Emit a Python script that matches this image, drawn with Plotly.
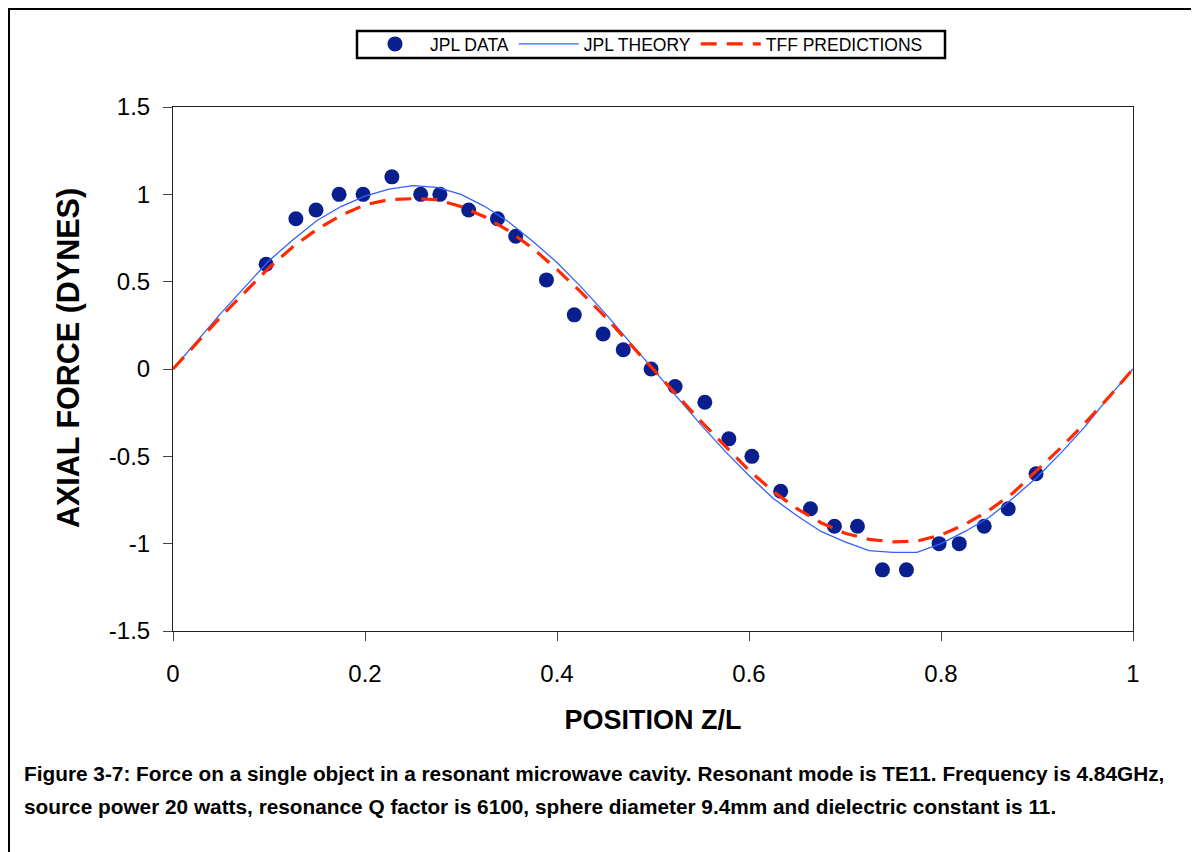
import plotly.graph_objects as go

# ---- data ----
data_x = [0.097, 0.128, 0.149, 0.173, 0.198, 0.228, 0.258, 0.278, 0.308, 0.338,
          0.357, 0.389, 0.418, 0.448, 0.469, 0.498, 0.523, 0.554, 0.579, 0.603,
          0.633, 0.664, 0.689, 0.713, 0.739, 0.764, 0.798, 0.819, 0.845, 0.870, 0.899]
data_y = [0.60, 0.86, 0.91, 1.00, 1.00, 1.10, 1.00, 1.00, 0.91, 0.86,
          0.76, 0.51, 0.31, 0.20, 0.11, 0.00, -0.10, -0.19, -0.40, -0.50,
          -0.70, -0.80, -0.90, -0.90, -1.15, -1.15, -1.00, -1.00, -0.90, -0.80, -0.60]

pos_x = [0, 0.025, 0.05, 0.075, 0.1, 0.125, 0.15, 0.175, 0.2, 0.225, 0.25, 0.275, 0.3,
         0.325, 0.35, 0.375, 0.4, 0.425, 0.45, 0.475, 0.5, 0.525, 0.55, 0.575, 0.6,
         0.625, 0.65, 0.675, 0.7, 0.725, 0.75, 0.775, 0.8, 0.825, 0.85, 0.875, 0.9,
         0.925, 0.95, 0.975, 1.0]
theory_y = [0, 0.16, 0.32, 0.47, 0.62, 0.74, 0.85, 0.93, 0.99, 1.03, 1.05, 1.04, 1.00,
            0.93, 0.84, 0.73, 0.61, 0.47, 0.32, 0.16, 0, -0.16, -0.32, -0.47, -0.61,
            -0.74, -0.84, -0.93, -0.99, -1.04, -1.05, -1.05, -1.00, -0.93, -0.85, -0.74, -0.62,
            -0.48, -0.33, -0.16, 0]
tff_y = [0, 0.15, 0.30, 0.44, 0.58, 0.70, 0.80, 0.88, 0.94, 0.97, 0.975, 0.97, 0.93,
         0.87, 0.79, 0.69, 0.57, 0.44, 0.30, 0.15, 0, -0.15, -0.30, -0.44, -0.58,
         -0.70, -0.80, -0.88, -0.94, -0.975, -0.99, -0.985, -0.95, -0.89, -0.81, -0.71, -0.58,
         -0.45, -0.31, -0.16, 0]

x_ticks = [0, 0.2, 0.4, 0.6, 0.8, 1]
x_tick_labels = ["0", "0.2", "0.4", "0.6", "0.8", "1"]
y_ticks = [-1.5, -1, -0.5, 0, 0.5, 1, 1.5]
y_tick_labels = ["-1.5", "-1", "-0.5", "0", "0.5", "1", "1.5"]

x_title = "POSITION Z/L"
y_title = "AXIAL FORCE (DYNES)"
caption_lines = [
    "Figure 3-7: Force on a single object in a resonant microwave cavity. Resonant mode is TE11. Frequency is 4.84GHz,",
    "source power 20 watts, resonance Q factor is 6100, sphere diameter 9.4mm and dielectric constant is 11.",
]

fig = go.Figure()
fig.add_trace(go.Scatter(x=data_x, y=data_y, mode="markers", name="JPL DATA",
                         marker=dict(symbol="circle", size=15, color="#0a1f8f",
                                     line=dict(width=0))))
fig.add_trace(go.Scatter(x=pos_x, y=theory_y, mode="lines", name="JPL THEORY",
                         line=dict(color="#3560ff", width=1.3)))
fig.add_trace(go.Scatter(x=pos_x, y=tff_y, mode="lines", name="TFF PREDICTIONS",
                         line=dict(color="#ff2a00", width=3.2, dash="16px,10px")))

# page has an 8px body margin; coordinates below are screen pixels
OFF = 8
W, H = 1199, 852
PL, PR, PT, PB = 173, 1133, 107, 631   # plot area in screen px
pw, ph = PR - PL, PB - PT

def px(xs):
    return (xs - PL) / pw

def py(ys):
    return (PB - ys) / ph

fig.update_layout(
    width=W, height=H,
    margin=dict(l=PL - OFF, r=W - PR + OFF, t=PT - OFF, b=H - PB + OFF, pad=0),
    paper_bgcolor="white", plot_bgcolor="white",
    font=dict(family="Arial, Liberation Sans, sans-serif", color="black"),
    showlegend=True,
    legend=dict(orientation="h", x=px(360), xanchor="left", y=py(44), yanchor="middle",
                bgcolor="rgba(0,0,0,0)", borderwidth=0,
                font=dict(size=17.5, family="Arial, Liberation Sans, sans-serif"),
                itemwidth=60, tracegroupgap=0),
    xaxis=dict(range=[0, 1], tickvals=x_ticks, ticktext=x_tick_labels,
               showgrid=False, zeroline=False, showline=True, linecolor="#222",
               linewidth=1, mirror=True, ticks="outside", ticklen=9, tickcolor="#444",
               tickfont=dict(size=24), ticklabelstandoff=12,
               title=dict(text="<b>" + x_title + "</b>", font=dict(size=27), standoff=24)),
    yaxis=dict(range=[-1.5, 1.5], tickvals=y_ticks, ticktext=y_tick_labels,
               showgrid=False, zeroline=False, showline=True, linecolor="#222",
               linewidth=1, mirror=True, ticks="outside", ticklen=9, tickcolor="#444",
               tickfont=dict(size=24), ticklabelstandoff=8),
)

# y-axis title
fig.add_annotation(xref="paper", yref="paper", x=px(68), y=py(358), xanchor="center",
                   yanchor="middle", textangle=-90, showarrow=False,
                   text="<b>" + y_title + "</b>", font=dict(size=30.5))

for line, yc in zip(caption_lines, [773, 806]):
    fig.add_annotation(xref="paper", yref="paper", x=px(22), y=py(yc), xanchor="left",
                       yanchor="middle", align="left", showarrow=False,
                       text="<b>" + line + "</b>",
                       font=dict(size=20.8, family="Arial, Liberation Sans, sans-serif"))

# outer frame
fig.add_shape(type="rect", xref="paper", yref="paper", x0=px(9), x1=px(1215),
              y0=py(880), y1=py(9), line=dict(color="black", width=2), layer="below")
# legend box
fig.add_shape(type="rect", xref="paper", yref="paper", x0=px(357), x1=px(945),
              y0=py(58), y1=py(31), line=dict(color="black", width=2.5), layer="below")

fig.write_html("out.html")
